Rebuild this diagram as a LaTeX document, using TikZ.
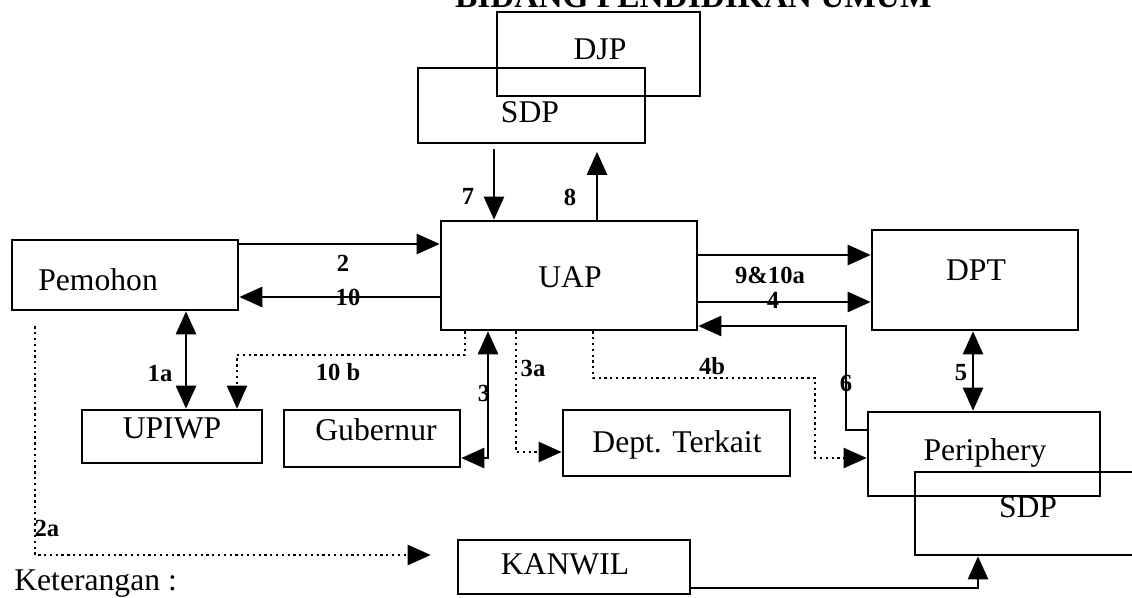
\documentclass[tikz,border=0pt]{standalone}
\usepackage{fontspec}
\setmainfont{Liberation Serif}
\usetikzlibrary{arrows.meta,fit,positioning}
\newcommand{\boxfont}{\fontsize{18}{20}\selectfont}
\newcommand{\numfont}{\fontsize{14}{16}\selectfont\bfseries}
\tikzset{
  box/.style={draw, line width=1.5pt, inner sep=0pt},
  lbl/.style={font=\boxfont, inner sep=0pt, anchor=base},
  num/.style={font=\numfont, inner sep=0pt},
  tip/.style={-{Triangle[length=0.46cm,width=0.4cm]}},
  arr/.style={line width=1.5pt, tip},
  arrs/.style={line width=1.5pt, {Triangle[length=0.46cm,width=0.4cm]}-{Triangle[length=0.46cm,width=0.4cm]}},
  dotarr/.style={line width=1.3pt, dotted, tip},
}

\begin{document}
\begin{tikzpicture}[x=0.02cm, y=-0.02cm]
  \useasboundingbox (0,0) rectangle (1132,598);
  \clip (0,0) rectangle (1132,598);
  \fill[white] (0,0) rectangle (1132,598);
  % title, cut by the top edge
  \node[font=\fontsize{19}{21}\selectfont\bfseries, anchor=base east, inner sep=0pt] (title) at (932,8) {BIDANG PENDIDIKAN UMUM};
  % boxes
  \node[box, fit={(497,12) (700,96)}] (djp) {};
  \node[lbl] (djpt) at (600,60) {DJP};
  \node[box, fit={(418,68) (645,143)}] (sdpa) {};
  \node[lbl] (sdpat) at (530,122) {SDP};
  \node[box, fit={(441,221) (697,330)}] (uap) {};
  \node[lbl] (uapt) at (570,287) {UAP};
  \node[box, fit={(12,240) (238,310)}] (pem) {};
  \node[lbl, anchor=base west] (pemt) at (38,290) {Pemohon};
  \node[box, fit={(872,230) (1078,330)}] (dpt) {};
  \node[lbl] (dptt) at (976,280) {DPT};
  \node[box, fit={(82,410) (262,463)}] (upi) {};
  \node[lbl] (upit) at (172,438) {UPIWP};
  \node[box, fit={(284,410) (460,467)}] (gub) {};
  \node[lbl] (gubt) at (376,440) {Gubernur};
  \node[box, fit={(563,410) (790,476)}] (dept) {};
  \node[lbl] (deptt) at (677,452) {Dept. Terkait};
  \node[box, fit={(868,412) (1100,496)}] (peri) {};
  \node[lbl] (perit) at (985,460) {Periphery};
  \node[box, fit={(915,472) (1160,555)}] (sdpb) {};
  \node[lbl] (sdpbt) at (1028,517) {SDP};
  \node[box, fit={(458,540) (690,594)}] (kan) {};
  \node[lbl] (kant) at (565,574) {KANWIL};
  \node[lbl, anchor=base west] (ket) at (14,590) {Keterangan :};
  % solid connectors
  \draw[arr, shorten <=0.1cm] (sdpa.south -| 494,0) -- (uap.north -| 494,0);
  \draw[arr, shorten >=0.15cm] (uap.north -| 597,0) -- (sdpa.south -| 597,0);
  \draw[arr] (pem.east |- 0,244) -- (uap.west |- 0,244);
  \draw[arr] (uap.west |- 0,297) -- (pem.east |- 0,297);
  \draw[arr] (uap.east |- 0,255) -- (dpt.west |- 0,255);
  \draw[arr] (uap.east |- 0,302) -- (dpt.west |- 0,302);
  \draw[arr] (peri.west |- 0,430) -| (846,326) -- (uap.east |- 0,326);
  \draw[arrs] (dpt.south -| 973,0) -- (peri.north -| 973,0);
  \draw[arrs] (pem.south -| 186,0) -- (upi.north -| 186,0);
  \draw[arrs] (gub.east |- 0,458) -| (uap.south -| 488,0);
  \draw[arr] (kan.east |- 0,588) -| (sdpb.south -| 978,0);
  % dotted connectors
  \draw[dotarr] (uap.south -| 465,0) |- (237,355) -- (upi.north -| 237,0);
  \draw[dotarr] (uap.south -| 516,0) |- (dept.west |- 0,452);
  \draw[dotarr] (uap.south -| 593,0) |- (815,378) |- (peri.west |- 0,458);
  \draw[dotarr, shorten <=0.3cm, shorten >=0.52cm] (pem.south -| 35,0) |- (kan.west |- 0,555);
  % numbers
  \foreach \n/\t/\x/\y in {n7/7/468/196, n8/8/570/197, n2/2/343/263, n10/10/348/297,
      n9/9\&10a/770/275, n4/4/773/300, n1a/1a/160/373, n10b/10 b/338/372, n3/3/484/393,
      n3a/3a/533/368, n4b/4b/712/366, n6/6/846/383, n5/5/961/373, n2a/2a/47/528}
    \node[num] (\n) at (\x,\y) {\t};
\end{tikzpicture}
\end{document}
